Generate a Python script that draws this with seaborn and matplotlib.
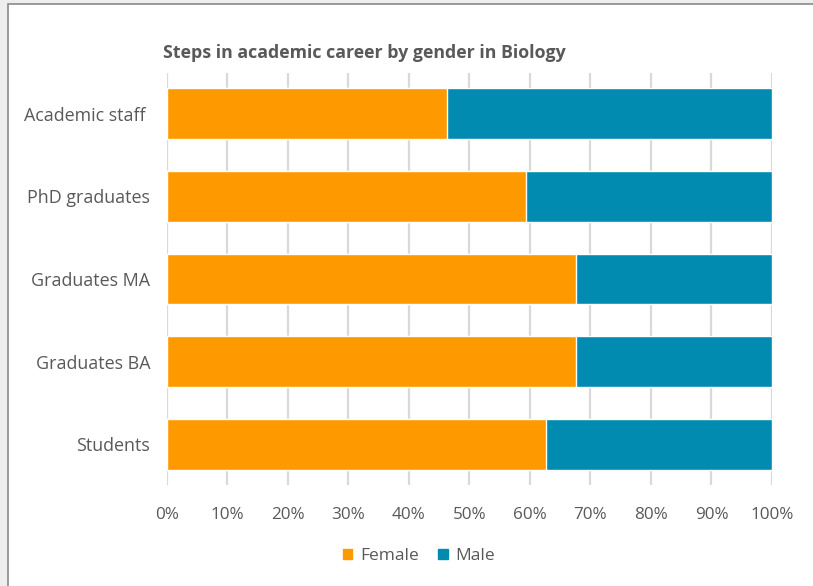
import matplotlib
matplotlib.use('Agg')
import matplotlib.pyplot as plt
import matplotlib.patches as mpatches
import matplotlib.ticker as mticker
import pandas as pd
import seaborn as sns

steps = ['Academic staff ', 'PhD graduates', 'Graduates MA', 'Graduates BA', 'Students']
female = [46.3, 59.4, 67.7, 67.7, 62.6]
male = [53.7, 40.6, 32.3, 32.3, 37.4]

df = pd.DataFrame({'step': steps, 'female': female, 'male': male})
df['total'] = df['female'] + df['male']

sns.set_style('white')
plt.rcParams['font.family'] = ['Open Sans', 'DejaVu Sans']

orange = '#ff9900'
blue = '#028bb1'
grey = '#595959'

fig = plt.figure(figsize=(8.13, 5.86), dpi=100)
fig.patch.set_facecolor('#eeeeee')
# white chart area with a thin border like the screenshot
fig.patches.append(mpatches.Rectangle((8 / 813, -0.01), 1.0, 1 - 4 / 586 + 0.01,
                                      transform=fig.transFigure, facecolor='white',
                                      edgecolor='#8a8a8a', linewidth=1.2, zorder=-5))

ax = fig.add_axes([166.7 / 813, 101 / 586, 605.3 / 813, 412 / 586])
ax.set_facecolor('none')

sns.barplot(data=df, x='total', y='step', color=blue, width=0.61, orient='h',
            saturation=1, ax=ax, zorder=2)
sns.barplot(data=df, x='female', y='step', color=orange, width=0.61, orient='h',
            saturation=1, ax=ax, zorder=3)

ax.set_xlim(0, 100)
ax.set_ylim(4.49, -0.49)
ax.xaxis.set_major_locator(mticker.MultipleLocator(10))
ax.xaxis.set_major_formatter(mticker.FuncFormatter(lambda v, p: f'{v:.0f}%'))
ax.grid(axis='x', color='#d9d9d9', linewidth=1.6, zorder=0)
ax.set_axisbelow(True)
for s in ax.spines.values():
    s.set_visible(False)
ax.set_xlabel('')
ax.set_ylabel('')
ax.tick_params(axis='both', length=0, labelcolor=grey)
ax.tick_params(axis='x', pad=16, labelsize=12.3)
ax.tick_params(axis='y', pad=12, labelsize=12.9)

fig.text(163 / 813, 1 - 53 / 586, 'Steps in academic career by gender in Biology',
         fontsize=12.8, fontweight='bold', color=grey, va='center', ha='left')

handles = [mpatches.Patch(color=orange, label='Female'),
           mpatches.Patch(color=blue, label='Male')]
fig.legend(handles=handles, loc='center', bbox_to_anchor=(419 / 813, 1 - 556 / 586),
           ncol=2, frameon=False, fontsize=12.5, labelcolor=grey,
           handlelength=0.55, handleheight=0.55, handletextpad=0.45, columnspacing=1.1)

fig.savefig('out.png', dpi=100)
